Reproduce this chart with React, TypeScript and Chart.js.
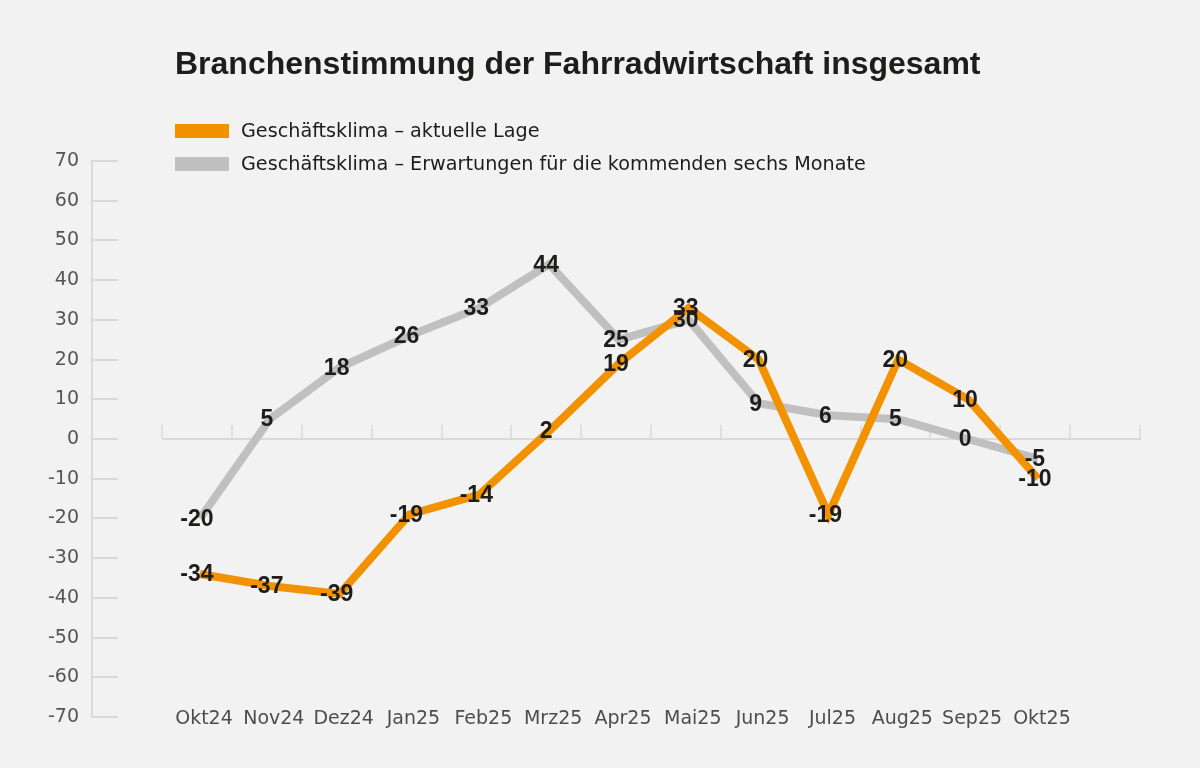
import React, { useEffect, useRef } from "react";
import { Chart, registerables } from "chart.js";

Chart.register(...registerables);

const TITLE = "Branchenstimmung der Fahrradwirtschaft insgesamt";
const categories = ["Okt24", "Nov24", "Dez24", "Jan25", "Feb25", "Mrz25", "Apr25", "Mai25", "Jun25", "Jul25", "Aug25", "Sep25", "Okt25"];
const seriesNames = ["Geschäftsklima – aktuelle Lage", "Geschäftsklima – Erwartungen für die kommenden sechs Monate"];
const currentSituation = [-34, -37, -39, -19, -14, 2, 19, 33, 20, -19, 20, 10, -10];
const expectations = [-20, 5, 18, 26, 33, 44, 25, 30, 9, 6, 5, 0, -5];
const yTicks = [70, 60, 50, 40, 30, 20, 10, 0, -10, -20, -30, -40, -50, -60, -70];

const ORANGE = "#f39200";
const GREY = "#c1c0c0";
const BG = "#f2f2f2";
const TEXT = "#1d1d1b";

const X_MIN = -1.5466;
const X_MAX = 13.605;

const decorPlugin = {
  id: "decor",
  afterLayout(chart: any) {
    const s = chart.scales.x;
    // move the label band up so the month labels sit level with -70
    s.top = chart.chartArea.bottom - 9;
  },
  beforeDatasetsDraw(chart: any) {
    const ctx = chart.ctx;
    const x = chart.scales.x;
    const y = chart.scales.y;
    ctx.save();
    ctx.strokeStyle = "#d9d9d9";
    ctx.lineWidth = 2;
    const left = chart.chartArea.left;
    yTicks.forEach((v) => {
      const py = Math.round(y.getPixelForValue(v));
      ctx.beginPath();
      ctx.moveTo(left, py);
      ctx.lineTo(left + 26, py);
      ctx.stroke();
    });
    const y0 = Math.round(y.getPixelForValue(0));
    const x0 = x.getPixelForValue(-0.54);
    const x1 = x.getPixelForValue(-0.54 + 14);
    ctx.beginPath();
    ctx.moveTo(x0, y0);
    ctx.lineTo(x1 + 1, y0);
    ctx.stroke();
    ctx.lineWidth = 1.5;
    for (let k = 0; k <= 14; k++) {
      const px = Math.round(x.getPixelForValue(-0.54 + k));
      ctx.beginPath();
      ctx.moveTo(px, y0);
      ctx.lineTo(px, y0 - 14);
      ctx.stroke();
    }
    ctx.restore();
  },
  afterDatasetsDraw(chart: any) {
    const ctx = chart.ctx;
    ctx.save();
    ctx.font = "bold 23px 'Liberation Sans', Arial, sans-serif";
    ctx.fillStyle = TEXT;
    ctx.textAlign = "center";
    ctx.textBaseline = "middle";
    [1, 0].forEach((di) => {
      const meta = chart.getDatasetMeta(di);
      const vals = chart.data.datasets[di].data;
      meta.data.forEach((pt: any, j: number) => {
        ctx.fillText(String(vals[j].y), pt.x - 3, pt.y + 1);
      });
    });
    ctx.restore();
  },
};

export default function App() {
  const ref = useRef<HTMLCanvasElement>(null);

  useEffect(() => {
    if (!ref.current) return;
    const chart = new Chart(ref.current, {
      type: "line",
      data: {
        datasets: [
          {
            label: seriesNames[0],
            data: currentSituation.map((v, i) => ({ x: i, y: v })),
            borderColor: ORANGE,
            backgroundColor: ORANGE,
            borderWidth: 8,
            pointRadius: 0,
            tension: 0,
            fill: false,
          },
          {
            label: seriesNames[1],
            data: expectations.map((v, i) => ({ x: i, y: v })),
            borderColor: GREY,
            backgroundColor: GREY,
            borderWidth: 8,
            pointRadius: 0,
            tension: 0,
            fill: false,
          },
        ],
      },
      options: {
        animation: false,
        responsive: false,
        devicePixelRatio: 1,
        layout: { padding: { top: 161, right: 50, bottom: 0, left: 0 } },
        plugins: {
          legend: { display: false },
          title: { display: false },
          tooltip: { enabled: false },
        },
        scales: {
          x: {
            type: "linear",
            min: X_MIN,
            max: X_MAX,
            grid: { display: false, drawTicks: false },
            border: { display: false },
            afterBuildTicks: (scale: any) => {
              scale.ticks = categories.map((_, i) => ({ value: i }));
            },
            afterFit: (scale: any) => {
              scale.height = 51;
            },
            ticks: {
              autoSkip: false,
              maxRotation: 0,
              minRotation: 0,
              padding: 0,
              labelOffset: 4,
              color: "#4d4d4d",
              font: { family: "'DejaVu Sans', sans-serif", size: 19 },
              callback: (v: any) => categories[v] ?? "",
            },
          },
          y: {
            type: "linear",
            min: -70,
            max: 70,
            grid: { display: false, drawTicks: false },
            border: { display: true, color: "#d9d9d9", width: 2 },
            afterFit: (scale: any) => {
              scale.width = 92;
            },
            ticks: {
              stepSize: 10,
              padding: 13,
              color: "#555555",
              font: { family: "'DejaVu Sans', sans-serif", size: 19 },
            },
          },
        },
      },
      plugins: [decorPlugin],
    } as any);
    return () => chart.destroy();
  }, []);

  const legendRow = (color: string, text: string, top: number) => (
    <div style={{ position: "absolute", left: 175, top, height: 20 }}>
      <div style={{ position: "absolute", left: 0, top: 3, width: 54, height: 14, background: color }} />
      <div
        style={{
          position: "absolute",
          left: 66,
          top: 0,
          whiteSpace: "nowrap",
          fontFamily: "'DejaVu Sans', sans-serif",
          fontSize: 19.2,
          lineHeight: "19px",
          color: TEXT,
        }}
      >
        {text}
      </div>
    </div>
  );

  return (
    <div style={{ position: "fixed", left: 0, top: 0, width: 1200, height: 768, background: BG, overflow: "hidden" }}>
      <canvas ref={ref} width={1200} height={768} style={{ position: "absolute", left: 0, top: 0, width: 1200, height: 768 }} />
      <div
        style={{
          position: "absolute",
          left: 175,
          top: 47,
          whiteSpace: "nowrap",
          fontFamily: "'Liberation Sans', Arial, sans-serif",
          fontWeight: "bold",
          fontSize: 32,
          lineHeight: "32px",
          color: TEXT,
        }}
      >
        {TITLE}
      </div>
      {legendRow(ORANGE, seriesNames[0], 121)}
      {legendRow(GREY, seriesNames[1], 154)}
    </div>
  );
}
